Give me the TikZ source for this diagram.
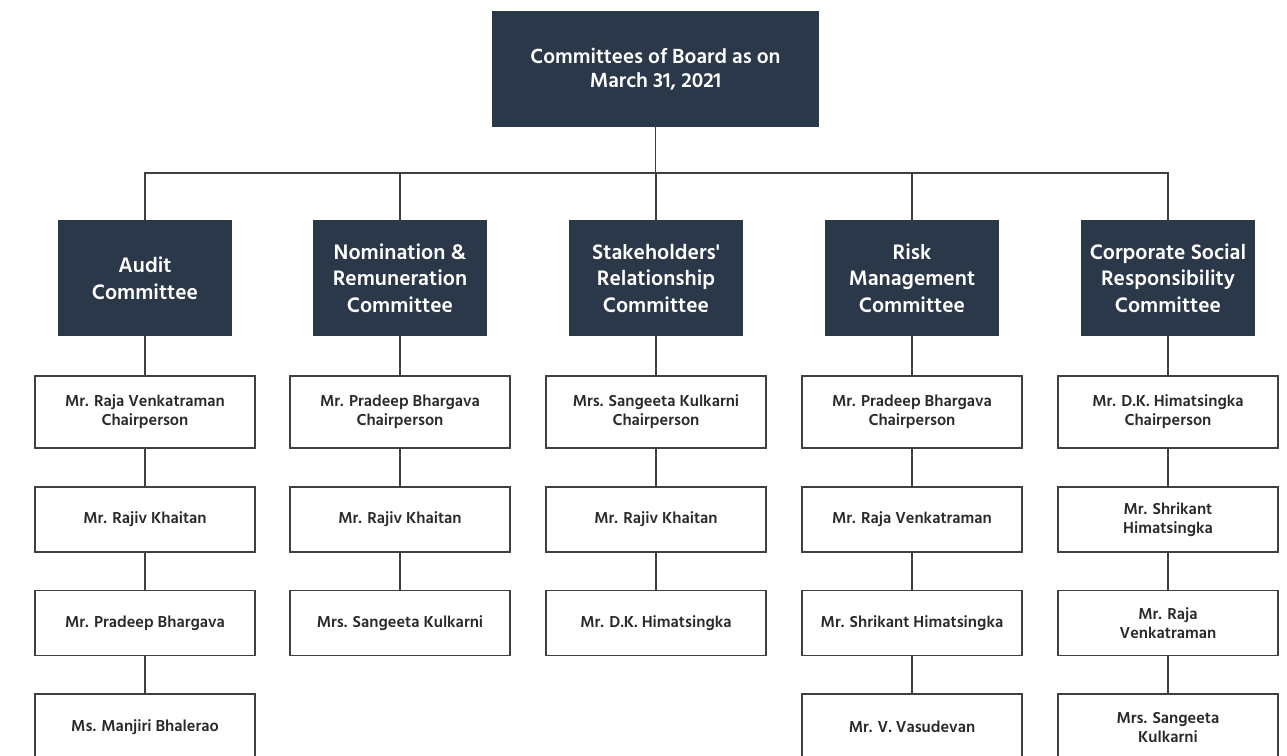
\documentclass[tikz,border=0pt]{standalone}
\usepackage{fontspec}
\setmainfont{Hind Siliguri}
\definecolor{navy}{HTML}{2B3849}
\definecolor{linec}{HTML}{404040}
\definecolor{txt}{HTML}{2A2A2A}
\tikzset{
  x=1pt, y=-1pt,
  conn/.style={draw=linec, line width=1.3pt},
  topbox/.style={fill=navy, draw=none, text=white, minimum width=327pt, minimum height=116pt, align=center, font=\fontsize{21}{24}\selectfont\bfseries, inner sep=0pt},
  cbox/.style={fill=navy, draw=none, text=white, minimum width=174pt, minimum height=116pt, align=center, font=\fontsize{21.5}{26.5}\selectfont\bfseries, inner sep=0pt},
  mbox/.style={fill=white, draw=linec, line width=1.3pt, text=txt, minimum width=220pt, align=center, font=\fontsize{16.3}{19}\selectfont\bfseries, inner sep=0pt},
  rowa/.style={mbox, minimum height=72pt},
  rowb/.style={mbox, minimum height=65pt},
}
\begin{document}
\begin{tikzpicture}
\useasboundingbox (0,0) rectangle (1287,755);
\clip (0,0) rectangle (1287,755);
\node[topbox] (top) at (655.5,69) {Committees of Board as on\\March 31, 2021};
\coordinate (bus) at (0,173);

\node[cbox] (c1) at (145,278) {Audit\\Committee};
\node[cbox] (c2) at (400,278) {Nomination \&\\Remuneration\\Committee};
\node[cbox] (c3) at (656,278) {Stakeholders\textquotesingle\\Relationship\\Committee};
\node[cbox] (c4) at (912,278) {Risk\\Management\\Committee};
\node[cbox] (c5) at (1168,278) {Corporate Social\\Responsibility\\Committee};

% Audit
\node[rowa] (a1) at (145,412) {Mr. Raja Venkatraman\\Chairperson};
\node[rowb] (a2) at (145,519.5) {Mr. Rajiv Khaitan};
\node[rowb] (a3) at (145,623) {Mr. Pradeep Bhargava};
\node[rowb, minimum height=66pt] (a4) at (145,727) {Ms. Manjiri Bhalerao};
% Nomination
\node[rowa] (n1) at (400,412) {Mr. Pradeep Bhargava\\Chairperson};
\node[rowb] (n2) at (400,519.5) {Mr. Rajiv Khaitan};
\node[rowb] (n3) at (400,623) {Mrs. Sangeeta Kulkarni};
% Stakeholders
\node[rowa] (s1) at (656,412) {Mrs. Sangeeta Kulkarni\\Chairperson};
\node[rowb] (s2) at (656,519.5) {Mr. Rajiv Khaitan};
\node[rowb] (s3) at (656,623) {Mr. D.K. Himatsingka};
% Risk
\node[rowa] (r1) at (912,412) {Mr. Pradeep Bhargava\\Chairperson};
\node[rowb] (r2) at (912,519.5) {Mr. Raja Venkatraman};
\node[rowb] (r3) at (912,623) {Mr. Shrikant Himatsingka};
\node[rowb, minimum height=66pt] (r4) at (912,727) {Mr. V. Vasudevan};
% CSR
\node[rowa] (k1) at (1168,412) {Mr. D.K. Himatsingka\\Chairperson};
\node[rowb] (k2) at (1168,519.5) {Mr. Shrikant\\Himatsingka};
\node[rowb] (k3) at (1168,623) {Mr. Raja\\Venkatraman};
\node[rowb, minimum height=66pt] (k4) at (1168,727) {Mrs. Sangeeta\\Kulkarni};

% connectors
\foreach \c in {c1,c2,c3,c4,c5}
  \draw[conn] (top.south) -- (top.south |- bus) -| (\c.north);
\draw[conn] (c1.south) -- (a1.north) (a1.south) -- (a2.north) (a2.south) -- (a3.north) (a3.south) -- (a4.north);
\draw[conn] (c2.south) -- (n1.north) (n1.south) -- (n2.north) (n2.south) -- (n3.north);
\draw[conn] (c3.south) -- (s1.north) (s1.south) -- (s2.north) (s2.south) -- (s3.north);
\draw[conn] (c4.south) -- (r1.north) (r1.south) -- (r2.north) (r2.south) -- (r3.north) (r3.south) -- (r4.north);
\draw[conn] (c5.south) -- (k1.north) (k1.south) -- (k2.north) (k2.south) -- (k3.north) (k3.south) -- (k4.north);
\end{tikzpicture}
\end{document}
